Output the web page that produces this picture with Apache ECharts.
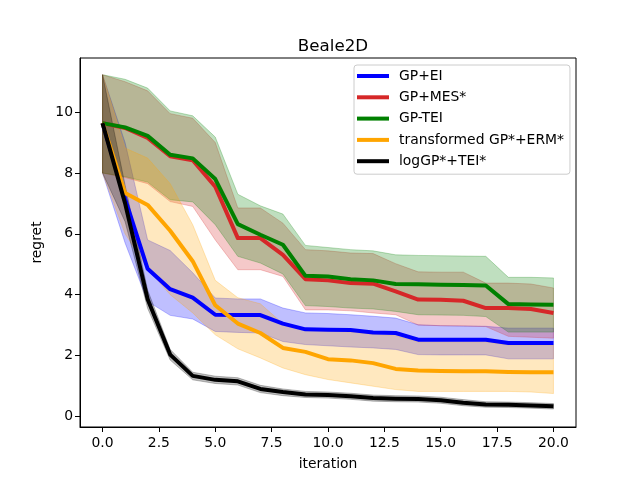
<!DOCTYPE html>
<html>
<head>
<meta charset="utf-8">
<script src="https://cdn.jsdelivr.net/npm/echarts@6/dist/echarts.min.js"></script>
<style>html,body{margin:0;padding:0;background:#fff;}#c{width:640px;height:480px;}</style>
</head>
<body>
<div id="c"></div>
<script>
const iterations = [0,1,2,3,4,5,6,7,8,9,10,11,12,13,14,15,16,17,18,19,20];
const xTicks = [0,2.5,5,7.5,10,12.5,15,17.5,20];
const yTicks = [0,2,4,6,8,10];

const seriesNames = ['GP+EI','GP+MES*','GP-TEI','transformed GP*+ERM*','logGP*+TEI*'];
const seriesColors = ['#0000ff','#d62728','#008000','#ffa500','#000000'];

const eiMean  = [9.64,7.15,4.85,4.18,3.9,3.34,3.33,3.33,3.05,2.86,2.85,2.84,2.76,2.74,2.52,2.52,2.52,2.52,2.41,2.41,2.41];
const eiUpper = [11.23,9.0,5.8,5.45,4.72,3.89,3.86,3.86,3.56,3.4,3.38,3.34,3.29,3.23,3.01,2.98,2.97,2.96,2.9,2.9,2.9];
const eiLower = [8.0,5.7,3.78,3.32,3.2,2.79,2.76,2.74,2.46,2.36,2.32,2.28,2.25,2.2,2.03,2.02,2.02,2.02,1.89,1.89,1.89];

const mesMean  = [9.64,9.48,9.15,8.55,8.42,7.55,5.86,5.86,5.31,4.51,4.47,4.38,4.36,4.11,3.84,3.83,3.8,3.56,3.56,3.53,3.4];
const mesUpper = [11.23,11.0,10.7,9.95,9.8,9.0,6.85,6.85,6.35,5.48,5.44,5.37,5.35,5.02,4.75,4.74,4.74,4.38,4.38,4.35,4.22];
const mesLower = [8.0,7.85,7.65,7.06,6.9,5.8,4.82,4.82,4.6,3.5,3.5,3.47,3.4,3.34,3.0,2.98,2.97,2.95,2.63,2.6,2.57];

const teiMean  = [9.64,9.5,9.22,8.6,8.48,7.8,6.32,5.97,5.64,4.62,4.6,4.51,4.47,4.35,4.34,4.33,4.32,4.3,3.69,3.68,3.67];
const teiUpper = [11.23,11.08,10.79,10.04,9.88,9.18,7.3,6.92,6.65,5.62,5.55,5.48,5.44,5.31,5.29,5.28,5.27,5.26,4.57,4.57,4.55];
const teiLower = [8.0,7.88,7.7,7.12,7.05,6.3,5.26,5.04,4.68,3.64,3.61,3.56,3.53,3.45,3.34,3.33,3.32,3.28,2.77,2.77,2.77];

const ermMean  = [9.64,7.34,6.95,6.1,5.1,3.65,3.05,2.74,2.25,2.12,1.88,1.84,1.75,1.56,1.51,1.49,1.48,1.48,1.46,1.45,1.45];
const ermUpper = [11.23,8.82,8.49,7.65,6.3,4.47,3.9,3.7,3.05,2.85,2.8,2.78,2.7,2.65,2.45,2.45,2.45,2.45,2.35,2.35,2.35];
const ermLower = [8.0,6.0,4.85,4.0,3.4,2.68,2.22,1.92,1.59,1.37,1.21,1.1,0.99,0.88,0.82,0.82,0.82,0.82,0.82,0.8,0.75];

const logMean  = [9.64,7.0,3.85,2.03,1.33,1.2,1.15,0.9,0.8,0.72,0.7,0.66,0.6,0.58,0.57,0.53,0.45,0.39,0.38,0.36,0.33];
const logUpper = [11.23,7.6,4.15,2.2,1.45,1.32,1.27,1.02,0.9,0.82,0.8,0.76,0.7,0.68,0.67,0.63,0.55,0.48,0.47,0.45,0.42];
const logLower = [8.0,6.4,3.55,1.85,1.2,1.08,1.03,0.78,0.68,0.62,0.6,0.56,0.5,0.48,0.47,0.43,0.35,0.3,0.29,0.27,0.24];

const groups = [
  [eiMean, eiUpper, eiLower],
  [mesMean, mesUpper, mesLower],
  [teiMean, teiUpper, teiLower],
  [ermMean, ermUpper, ermLower],
  [logMean, logUpper, logLower]
];

function hexToRgba(hex, a) {
  const n = parseInt(hex.slice(1), 16);
  return 'rgba(' + ((n >> 16) & 255) + ',' + ((n >> 8) & 255) + ',' + (n & 255) + ',' + a + ')';
}

const FONT = 'DejaVu Sans';
const series = [];
groups.forEach(function (g, k) {
  const color = seriesColors[k];
  const mean = g[0], up = g[1], lo = g[2];
  const bandData = iterations.map(function (x, i) { return [x, lo[i], up[i]]; });
  series.push({
    type: 'custom', name: 'band' + k, silent: true, animation: false, clip: true,
    data: bandData,
    encode: { x: 0, y: [1, 2] },
    renderItem: function (params, api) {
      if (params.dataIndex !== 0) return null;
      const pts = [];
      for (let i = 0; i < bandData.length; i++) pts.push(api.coord([bandData[i][0], bandData[i][2]]));
      for (let i = bandData.length - 1; i >= 0; i--) pts.push(api.coord([bandData[i][0], bandData[i][1]]));
      return {
        type: 'polygon',
        shape: { points: pts },
        style: { fill: hexToRgba(color, 0.25), stroke: hexToRgba(color, 0.25), lineWidth: 1 }
      };
    }
  });
  series.push({
    type: 'line', name: seriesNames[k], symbol: 'none', animation: false,
    data: iterations.map(function (x, i) { return [x, mean[i]]; }),
    lineStyle: { color: color, width: 4, cap: 'butt', join: 'round' },
    itemStyle: { color: color }
  });
});

const chart = echarts.init(document.getElementById('c'));
chart.setOption({
  backgroundColor: '#fff',
  animation: false,
  title: {
    text: 'Beale2D', left: 328, top: 33, textAlign: 'center',
    textStyle: { fontFamily: FONT, fontSize: 16.7, fontWeight: 'normal', color: '#000' }
  },
  grid: { left: 80, right: 64, top: 58, bottom: 53, show: true, borderColor: '#000', borderWidth: 1, backgroundColor: 'transparent' },
  legend: {
    data: seriesNames, orient: 'vertical', left: 354, top: 65,
    icon: 'rect', itemWidth: 32, itemHeight: 4, itemGap: 7.3,
    padding: [4, 6, 6, 3],
    backgroundColor: 'rgba(255,255,255,0.8)', borderColor: '#cccccc', borderWidth: 1, borderRadius: 3,
    textStyle: { fontFamily: FONT, fontSize: 13.9, color: '#000', lineHeight: 14, padding: [0, 0, 0, 5] }
  },
  xAxis: {
    type: 'value', min: -1, max: 21,
    name: 'iteration', nameLocation: 'middle', nameGap: 30,
    nameTextStyle: { fontFamily: FONT, fontSize: 13.9, color: '#000' },
    axisLine: { show: true, onZero: false, lineStyle: { color: '#000', width: 1 } },
    axisTick: { show: true, inside: false, length: 5, customValues: xTicks, lineStyle: { color: '#000' } },
    axisLabel: { customValues: xTicks, fontFamily: FONT, fontSize: 13.9, color: '#000', margin: 9,
      formatter: function (v) { return v.toFixed(1); } },
    splitLine: { show: false }
  },
  yAxis: {
    type: 'value', min: -0.35, max: 11.78,
    name: 'regret', nameLocation: 'middle', nameGap: 34, nameRotate: 90,
    nameTextStyle: { fontFamily: FONT, fontSize: 13.9, color: '#000' },
    axisLine: { show: true, onZero: false, lineStyle: { color: '#000', width: 1 } },
    axisTick: { show: true, inside: false, length: 5, customValues: yTicks, lineStyle: { color: '#000' } },
    axisLabel: { customValues: yTicks, fontFamily: FONT, fontSize: 13.9, color: '#000', margin: 7,
      formatter: function (v) { return String(Math.round(v)); } },
    splitLine: { show: false }
  },
  series: series
});
</script>
</body>
</html>
